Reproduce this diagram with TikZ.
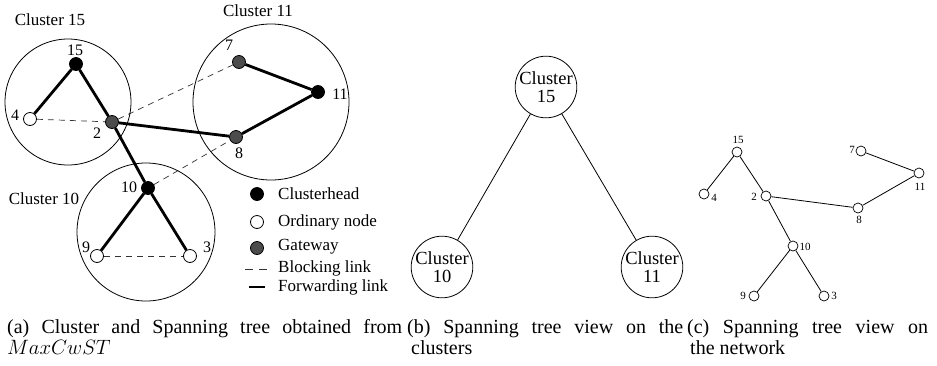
\documentclass[tikz,border=0pt]{standalone}
\usepackage{fontspec}
\setmainfont{Liberation Serif}
\usetikzlibrary{backgrounds}

\tikzset{
  % sensor nodes of the clustered network
  nd/.style={circle, draw, line width=0.8pt, minimum size=13pt, inner sep=0pt, fill=white},
  head/.style={nd, fill=black},
  plain/.style={nd, fill=white},
  gate/.style={nd, fill=black!70},
  % cluster ranges
  ring/.style={circle, draw, line width=0.8pt, inner sep=0pt},
  % links
  fwd/.style={line width=2.8pt},
  blk/.style={dash pattern=on 6pt off 5pt, line width=0.7pt, black!80},
  treeline/.style={line width=0.8pt},
  % texts
  lab/.style={font=\fontsize{16}{16}\selectfont, inner sep=0pt},
  clab/.style={font=\fontsize{17}{17}\selectfont, inner sep=0pt},
  leg/.style={font=\fontsize{17}{17}\selectfont, inner sep=0pt, anchor=west},
  cnode/.style={circle, draw, line width=0.8pt, minimum size=60pt, inner sep=0pt,
    align=center, font=\fontsize{18.5}{18}\selectfont},
  sn/.style={circle, draw, line width=0.7pt, minimum size=10pt, inner sep=0pt, fill=white},
  slab/.style={font=\fontsize{11}{11}\selectfont, inner sep=0pt},
  subcap/.style={font=\fontsize{20}{20}\selectfont, inner sep=0pt, anchor=base west},
}

\begin{document}
\begin{tikzpicture}[x=1pt, y=-1pt]
\useasboundingbox (0,0) rectangle (937,365);

% ---------- (a) clusters and spanning tree ----------
\node[ring, minimum size=126pt] (c15) at (68,102) {};
\node[ring, minimum size=156pt] (c11) at (271,102) {};
\node[ring, minimum size=138pt] (c10) at (146,232) {};

\node[clab] (t15) at (50,20) {Cluster 15};
\node[clab] (t11) at (258,11) {Cluster 11};
\node[clab] (t10) at (44,199) {Cluster 10};

\node[head]  (n15) at (76,64)   {};
\node[plain] (n4)  at (30,119)  {};
\node[gate]  (n2)  at (112,122) {};
\node[gate]  (n7)  at (239,62)  {};
\node[head]  (n11) at (318,92)  {};
\node[gate]  (n8)  at (236,137) {};
\node[head]  (n10) at (148,188) {};
\node[plain] (n9)  at (97,256)  {};
\node[plain] (n3)  at (190,256) {};

\node[lab] (l15) at (75,50)   {15};
\node[lab] (l4)  at (15,115)  {4};
\node[lab] (l2)  at (97,133)  {2};
\node[lab] (l7)  at (229,45)  {7};
\node[lab] (l11) at (340,94)  {11};
\node[lab] (l8)  at (239,153) {8};
\node[lab] (l10) at (129,187) {10};
\node[lab] (l9)  at (86,247)  {9};
\node[lab] (l3)  at (207,247) {3};

\begin{scope}[on background layer]
  \draw[blk] (n4) -- (n2);
  \draw[blk] (n2) -- (n7);
  \draw[blk] (n10) -- (n8);
  \draw[blk] (n9) -- (n3);
  \draw[fwd] (n15) -- (n4);
  \draw[fwd] (n15) -- (n2);
  \draw[fwd] (n2) -- (n10);
  \draw[fwd] (n2) -- (n8);
  \draw[fwd] (n7) -- (n11);
  \draw[fwd] (n11) -- (n8);
  \draw[fwd] (n10) -- (n9);
  \draw[fwd] (n10) -- (n3);
\end{scope}

% legend
\node[head]  (g1) at (257,194) {};
\node[plain] (g2) at (257,222) {};
\node[gate]  (g3) at (257,248) {};
\coordinate (b1) at (245,269);
\coordinate (b2) at (267,269);
\draw[dash pattern=on 8pt off 6pt, line width=0.7pt, black!80] (b1) -- (b2);
\coordinate (f1) at (249,287);
\coordinate (f2) at (265,287);
\draw[fwd] (f1) -- (f2);
\node[leg] (e1) at (278,194) {Clusterhead};
\node[leg] (e2) at (278,222) {Ordinary node};
\node[leg] (e3) at (278,247) {Gateway};
\node[leg] (e4) at (278,268) {Blocking link};
\node[leg] (e5) at (278,287) {Forwarding link};

% ---------- (b) spanning tree on the clusters ----------
\node[cnode] (k15) at (546,87)  {Cluster\\15};
\node[cnode] (k10) at (442,267) {Cluster\\10};
\node[cnode] (k11) at (652,267) {Cluster\\11};
\draw[treeline] (k15) -- (k10);
\draw[treeline] (k15) -- (k11);

% ---------- (c) spanning tree on the network ----------
\node[sn] (m15) at (737,152) {};
\node[sn] (m4)  at (704,194) {};
\node[sn] (m2)  at (766,196) {};
\node[sn] (m7)  at (861,151) {};
\node[sn] (m11) at (919,173) {};
\node[sn] (m8)  at (858,208) {};
\node[sn] (m10) at (793,246) {};
\node[sn] (m9)  at (754,296) {};
\node[sn] (m3)  at (824,296) {};

\node[slab] (s15) at (738,140) {15};
\node[slab] (s4)  at (714,198) {4};
\node[slab] (s2)  at (754,197) {2};
\node[slab] (s7)  at (852,150) {7};
\node[slab] (s11) at (920,187) {11};
\node[slab] (s8)  at (859,220) {8};
\node[slab] (s10) at (805,247) {10};
\node[slab] (s9)  at (743,296) {9};
\node[slab] (s3)  at (834,296) {3};

\draw[treeline] (m15) -- (m4);
\draw[treeline] (m15) -- (m2);
\draw[treeline] (m2) -- (m8);
\draw[treeline] (m2) -- (m10);
\draw[treeline] (m7) -- (m11);
\draw[treeline] (m11) -- (m8);
\draw[treeline] (m10) -- (m9);
\draw[treeline] (m10) -- (m3);

% ---------- sub-captions ----------
\node[subcap] (ca1) at (7,333)   {\makebox[395pt][s]{(a) Cluster and Spanning tree obtained from}};
\node[subcap] (ca2) at (7,354)   {$MaxCwST$};
\node[subcap] (cb1) at (407,333) {\makebox[276pt][s]{(b) Spanning tree view on the}};
\node[subcap] (cb2) at (411,354) {clusters};
\node[subcap] (cc1) at (687,333) {\makebox[241pt][s]{(c) Spanning tree view on}};
\node[subcap] (cc2) at (690,354) {the network};
\end{tikzpicture}
\end{document}
